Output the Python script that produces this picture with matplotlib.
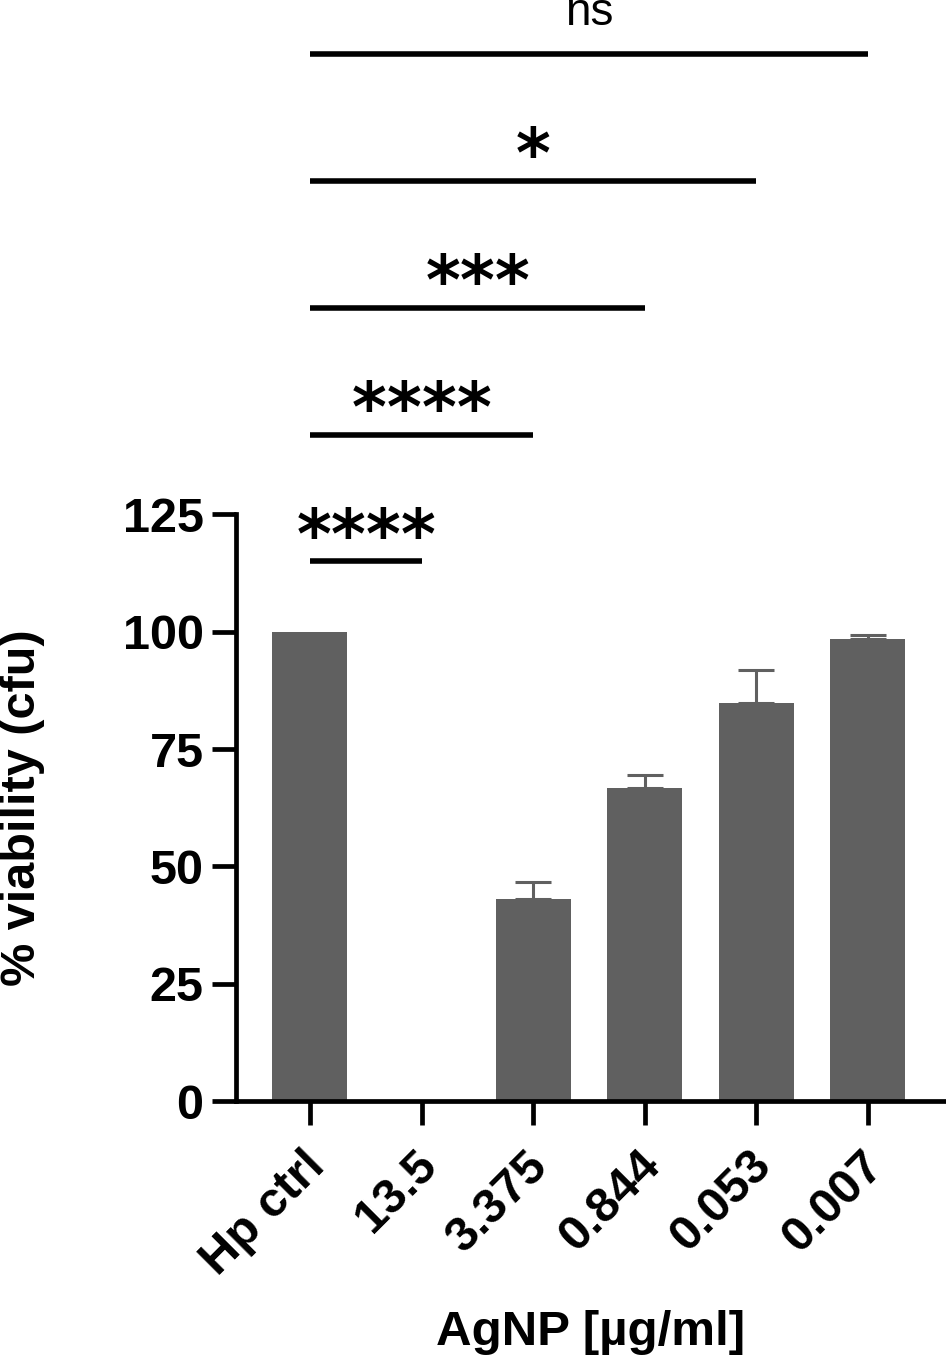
import matplotlib
matplotlib.use("Agg")
import matplotlib.pyplot as plt
import matplotlib.transforms as mtransforms
import numpy as np

categories = ["Hp ctrl", "13.5", "3.375", "0.844", "0.053", "0.007"]
viability = [100, 0, 43.0, 66.7, 84.8, 98.4]
err_upper = [0, 0, 3.6, 2.8, 7.0, 0.9]

comp_end = [1, 2, 3, 4, 5]
comp_labels = ["****", "****", "***", "*", "ns"]
comp_heights = [115, 142, 169, 196, 223]

plt.rcParams['font.family'] = ['Liberation Sans', 'DejaVu Sans']

fig = plt.figure(figsize=(9.46, 13.56), dpi=100)
ax = fig.add_axes([0.249, 0.188, 0.751, 0.812])

x = np.arange(len(categories))
bar_color = '#606060'
ax.bar(x, viability, width=0.672, color=bar_color, zorder=2)

vals = np.array(viability)
errs = np.array(err_upper)
mask = errs > 0
ax.errorbar(x[mask], vals[mask], yerr=[np.zeros(mask.sum()), errs[mask]],
            fmt='none', ecolor=bar_color, elinewidth=2.2, capsize=13, capthick=2.2, zorder=1)

ax.set_xlim(-0.667, 5.70)
ax.set_ylim(0, 234.6)

for s in ['top', 'right']:
    ax.spines[s].set_visible(False)
ax.spines['left'].set_bounds(0, 125)
ax.spines['left'].set_linewidth(3.4)
ax.spines['bottom'].set_linewidth(3.4)

ax.set_yticks([0, 25, 50, 75, 100, 125])
ax.set_xticks(x)
ax.tick_params(axis='both', direction='out', length=17, width=3.4, color='black')
ax.tick_params(axis='y', pad=6, labelsize=35)
ax.tick_params(axis='x', pad=13, labelsize=35)
ax.set_xticklabels(categories, rotation=45, ha='right', va='center', rotation_mode='anchor')
shift = mtransforms.ScaledTranslation(0.08, -0.16, fig.dpi_scale_trans)
for lbl in ax.get_xticklabels():
    lbl.set_transform(lbl.get_transform() + shift)
for lbl in ax.get_xticklabels() + ax.get_yticklabels():
    lbl.set_fontweight('bold')

ax.set_ylabel("% viability (cfu)", fontsize=35, fontweight='bold', va='center')
ax.yaxis.set_label_coords(-0.3005, 0.266)
ax.set_xlabel("AgNP [µg/ml]", fontsize=35.5, fontweight='bold', va='center')
ax.xaxis.set_label_coords(0.5, -0.210)

# significance brackets
for end, lab, h in zip(comp_end, comp_labels, comp_heights):
    ax.plot([0, end], [h, h], color='black', lw=4, solid_capstyle='butt', clip_on=False)
    xc = end / 2.0
    if lab == 'ns':
        ax.text(xc, h + 6.2, lab, ha='center', va='baseline', fontsize=33, clip_on=False)
    else:
        n = len(lab)
        for i in range(n):
            off = (i - (n - 1) / 2.0) * 25.0
            ax.annotate('*', xy=(xc, h + 0.8), xytext=(off, 0), textcoords='offset points',
                        ha='center', va='baseline', fontsize=48, fontweight='bold',
                        family='DejaVu Sans', annotation_clip=False)

fig.savefig('out.png', dpi=100)
